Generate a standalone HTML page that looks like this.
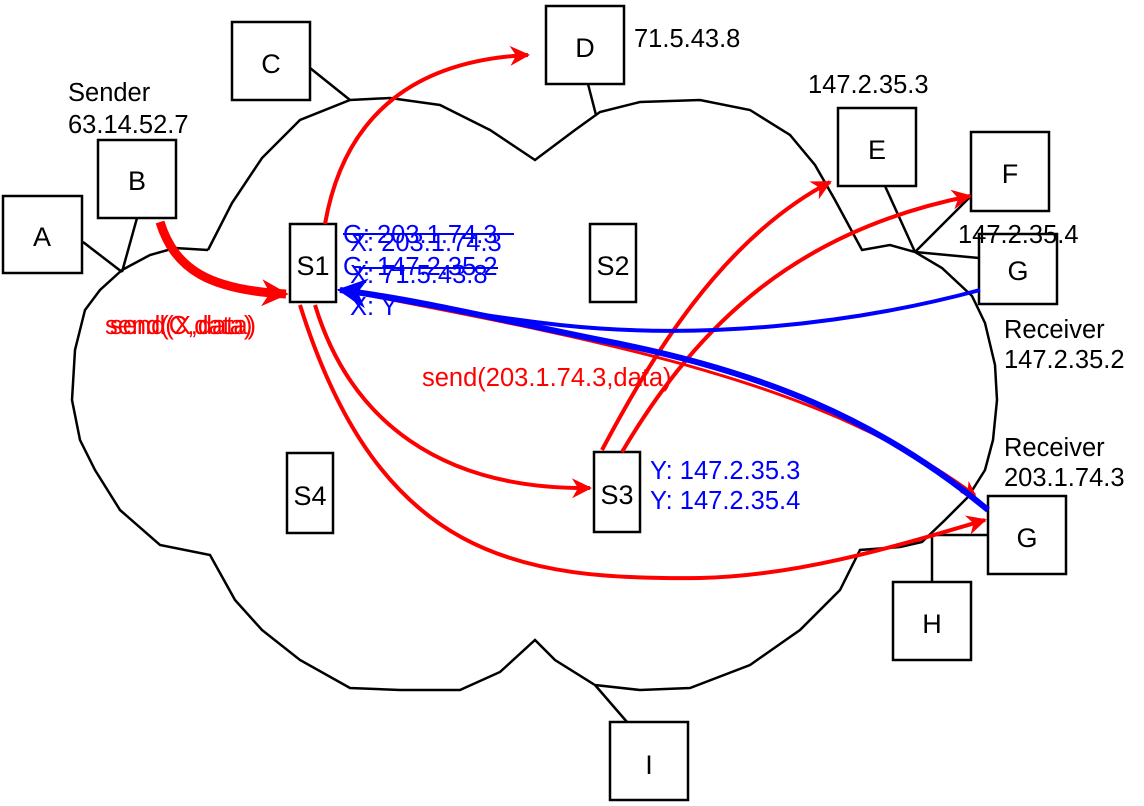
<!DOCTYPE html>
<html><head><meta charset="utf-8"><style>
html,body{margin:0;padding:0;background:#fff;}
svg{display:block;}
text{font-family:"Liberation Sans",Arial,sans-serif;}
</style></head><body>
<svg width="1144" height="806" viewBox="0 0 1144 806" xmlns="http://www.w3.org/2000/svg">
<defs>
<marker id="ar" viewBox="0 0 10 10" refX="9" refY="5" markerWidth="6" markerHeight="5" markerUnits="strokeWidth" orient="auto"><path d="M0,0 L10,5 L0,10 L3,5 z" fill="#f00"/></marker>
<marker id="ar2" viewBox="0 0 10 10" refX="9" refY="5" markerWidth="4" markerHeight="3" markerUnits="strokeWidth" orient="auto"><path d="M0,0 L10,5 L0,10 L3,5 z" fill="#f00"/></marker>
<marker id="ab" viewBox="0 0 10 10" refX="9" refY="5" markerWidth="6" markerHeight="5" markerUnits="strokeWidth" orient="auto"><path d="M0,0 L10,5 L0,10 L3,5 z" fill="#00f"/></marker>
</defs>
<g fill="none" stroke="#000" stroke-width="2.5">
<polyline points="208,250 232,203 262,158 300,120 350,100 390,98 440,105 490,130 535,160 575,130 600,112 640,102 700,100 750,110 790,135 815,165 835,200 862,250 890,245 915,252 942,268 972,296 985,323 995,365 997,400 993,440 985,470 968,497 945,520 922,542 900,547 860,550 840,590 800,630 750,665 690,688 640,690 595,685 555,660 535,640 500,672 460,690 400,690 350,688 300,660 262,630 235,600 210,555 160,545 120,510 95,470 80,440 72,400 75,350 85,310 100,290 122,270 150,255 175,248 208,250"/>
<line x1="83" y1="242" x2="122" y2="272"/>
<line x1="137" y1="218" x2="122" y2="272"/>
<line x1="310" y1="68" x2="350" y2="100"/>
<line x1="588" y1="84" x2="596" y2="115"/>
<line x1="885" y1="186" x2="915" y2="252"/>
<line x1="971" y1="196" x2="915" y2="252"/>
<line x1="979" y1="258" x2="915" y2="252"/>
<line x1="932" y1="582" x2="932" y2="535"/>
<line x1="932" y1="535" x2="988" y2="535"/>
<line x1="627" y1="722" x2="595" y2="685"/>
</g>
<g fill="#fff" stroke="#000" stroke-width="2.5">
<rect x="3" y="196" width="79" height="77"/>
<rect x="98" y="140" width="78" height="78"/>
<rect x="232" y="22" width="78" height="78"/>
<rect x="546" y="6" width="78" height="78"/>
<rect x="838" y="108" width="78" height="78"/>
<rect x="971" y="132" width="78" height="79"/>
<rect x="979" y="234" width="78" height="70"/>
<rect x="988" y="496" width="78" height="78"/>
<rect x="893" y="582" width="78" height="78"/>
<rect x="610" y="722" width="78" height="78"/>
<rect x="290" y="224" width="46" height="78"/>
<rect x="590" y="224" width="46" height="78"/>
<rect x="594" y="452" width="46" height="80"/>
<rect x="287" y="453" width="46" height="80"/>
</g>
<g font-size="27" text-anchor="middle" fill="#000">
<text x="42" y="246">A</text><text x="137" y="190">B</text><text x="271" y="73">C</text>
<text x="585" y="57">D</text><text x="877" y="159">E</text><text x="1010" y="183">F</text>
<text x="1018" y="280">G</text><text x="1027" y="547">G</text><text x="932" y="633">H</text>
<text x="649" y="774">I</text>
<text x="313" y="275">S1</text><text x="613" y="275">S2</text><text x="617" y="504">S3</text><text x="310" y="505">S4</text>
</g>
<g font-size="25.5" fill="#000">
<text x="68" y="101">Sender</text><text x="68" y="133">63.14.52.7</text>
<text x="634" y="47">71.5.43.8</text><text x="808" y="93">147.2.35.3</text>
<text x="958" y="243">147.2.35.4</text>
<text x="1004" y="338">Receiver</text><text x="1004" y="368">147.2.35.2</text>
<text x="1004" y="456">Receiver</text><text x="1004" y="486">203.1.74.3</text>
</g>
<g fill="none" stroke="#f00" stroke-width="4">
<path d="M160,222 C175,270 210,290 286,294" stroke-width="9" marker-end="url(#ar2)"/>
<path d="M325,224 C345,110 420,60 528,55" marker-end="url(#ar)"/>
<path d="M315,305 C350,420 440,490 590,488" marker-end="url(#ar)"/>
<path d="M300,305 C380,560 520,580 700,578 C800,576 900,545 985,520" marker-end="url(#ar)"/>
<path d="M602,450 C650,360 720,240 830,182" marker-end="url(#ar)"/>
<path d="M622,452 C700,320 800,230 970,196" marker-end="url(#ar)"/>
<path d="M340,290 C600,340 820,380 975,495" stroke-width="3" marker-end="url(#ar)"/>
</g>
<g fill="none" stroke="#00f" stroke-width="4">
<path d="M980,290 C850,325 700,340 560,325 C470,315 400,300 340,290" marker-end="url(#ab)"/>
<path d="M988,510 C880,420 760,370 600,340 C500,320 420,300 340,290" stroke-width="6" marker-end="url(#ab)"/>
</g>
<g font-size="25.5" fill="#f00">
<text x="105" y="334">send(C,data)</text><text x="110" y="334">send(X,data)</text>
<text x="422" y="386">send(203.1.74.3,data)</text>
</g>
<g font-size="25.5" fill="#00f">
<text x="343" y="243">G: 203.1.74.3</text><text x="350" y="251">X: 203.1.74.3</text>
<text x="343" y="275">G: 147.2.35.2</text><text x="350" y="283">X: 71.5.43.8</text>
<text x="350" y="315">X: Y</text>
<text x="650" y="479">Y: 147.2.35.3</text><text x="650" y="509">Y: 147.2.35.4</text>
</g>
<g stroke="#00f" stroke-width="2">
<line x1="343" y1="234" x2="514" y2="234"/><line x1="360" y1="268" x2="498" y2="268"/><line x1="338" y1="290" x2="360" y2="290"/>
</g>
</svg>
</body></html>
